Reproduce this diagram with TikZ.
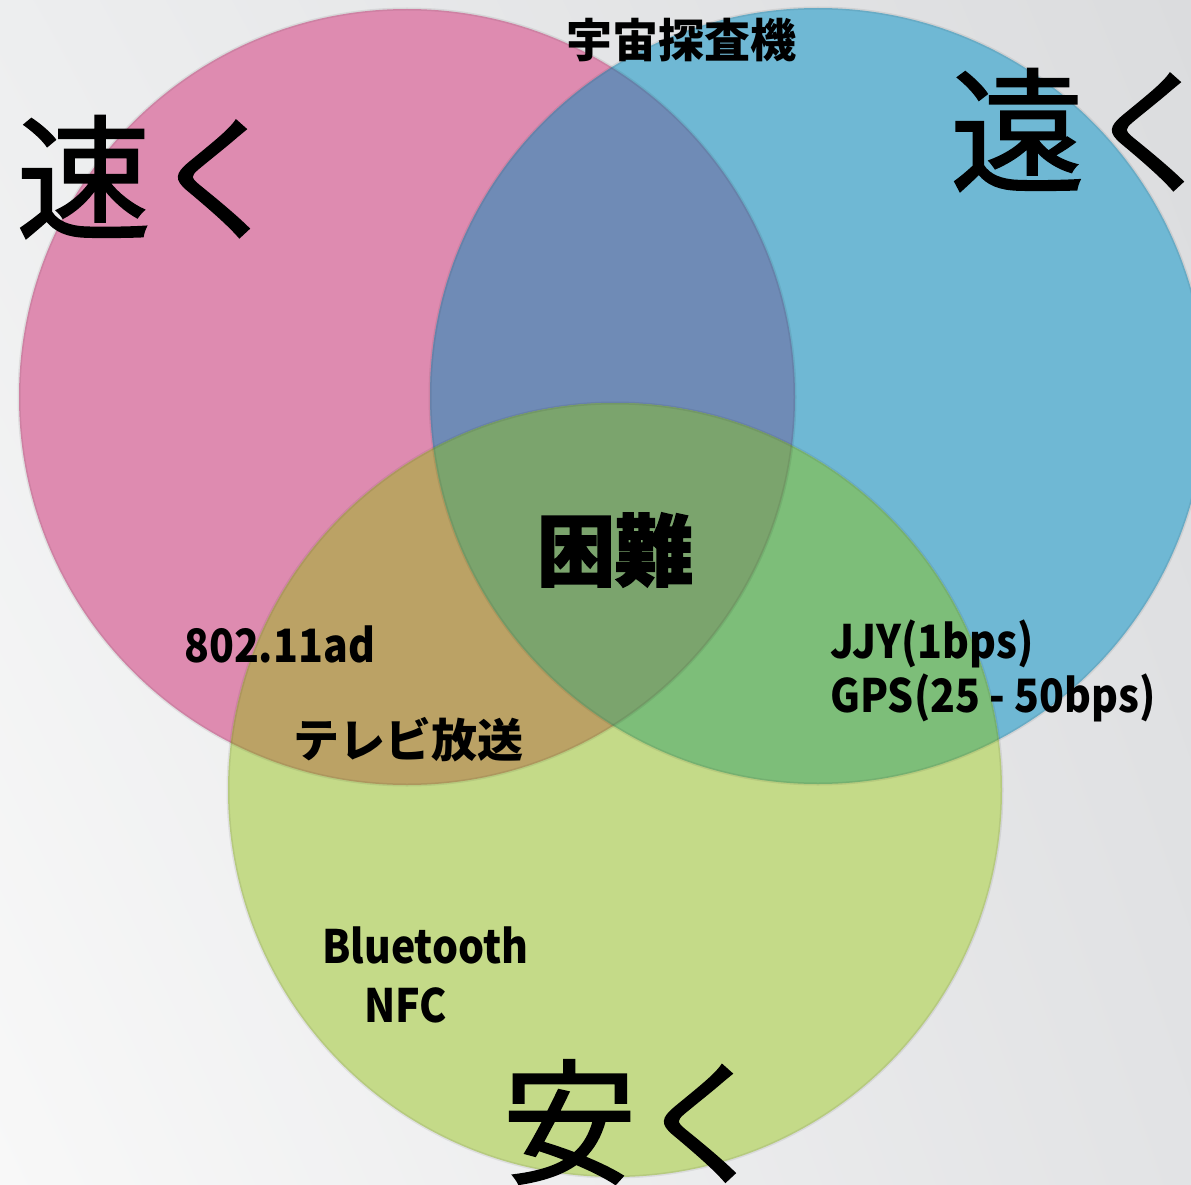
\documentclass[tikz,border=0pt]{standalone}
\usepackage{fontspec}
\setmainfont{Noto Sans CJK JP}
\newfontfamily\cjkheavy{Noto Sans CJK JP}[BoldFeatures={FakeBold=2}]
\newfontfamily\cjkmed{Noto Sans CJK JP}[FakeBold=1.2]
\newfontfamily\latinlbl{Noto Sans CJK JP}[FakeStretch=0.89]
\usetikzlibrary{shadings}
\definecolor{bgTL}{HTML}{EDEEEF}
\definecolor{bgTR}{HTML}{DBDCDE}
\definecolor{bgBL}{HTML}{F8F8F8}
\definecolor{bgBR}{HTML}{E2E3E5}
\definecolor{pinkonly}{HTML}{DE8BB0}
\definecolor{blueonly}{HTML}{6FB8D4}
\definecolor{greenonly}{HTML}{C4DA88}
\definecolor{pbcol}{HTML}{6F8BB6}
\definecolor{pgcol}{HTML}{BBA265}
\definecolor{bgcol}{HTML}{7DBE79}
\definecolor{pbgcol}{HTML}{7BA46D}
\begin{document}
\begin{tikzpicture}[x=1pt,y=-1pt,
  lbl/.style={inner sep=0pt, font=\bfseries\fontsize{46}{50}\selectfont},
  latin/.style={inner sep=0pt, anchor=base west, font=\latinlbl\bfseries\fontsize{46}{50}\selectfont},
  bigword/.style={inner sep=0pt, font=\cjkmed\fontsize{135}{140}\selectfont},
  ring/.style={radius=388pt},
  rim/.style={draw=black, draw opacity=0.07, line width=3pt}]
\useasboundingbox (0,0) rectangle (1191,1185);
\shade[upper left=bgTL, upper right=bgTR, lower left=bgBL, lower right=bgBR] (0,0) rectangle (1191,1185);
\coordinate (P) at (407,397);
\coordinate (B) at (818,396);
\coordinate (G) at (615,790);
\fill[pinkonly] (P) circle[ring];
\fill[blueonly] (B) circle[ring];
\fill[greenonly] (G) circle[radius=387pt];
\begin{scope}
  \clip (P) circle[ring];
  \fill[pbcol] (B) circle[ring];
  \fill[pgcol] (G) circle[radius=387pt];
\end{scope}
\begin{scope}
  \clip (B) circle[ring];
  \fill[bgcol] (G) circle[radius=387pt];
  \clip (P) circle[ring];
  \fill[pbgcol] (G) circle[radius=387pt];
\end{scope}
\path[rim] (P) circle[ring];
\path[rim] (B) circle[ring];
\path[rim] (G) circle[radius=387pt];
\node[bigword] (fast) at (151,177) {速く};
\node[bigword] (far) at (1085,130) {遠く};
\node[bigword] (cheap) at (637,1122) {安く};
\node[lbl] (probe) at (681,40) {宇宙探査機};
\node[inner sep=0pt, font=\cjkheavy\bfseries\fontsize{78}{80}\selectfont] (hard) at (615,550) {困難};
\node[latin] (wigig) at (184,662) {802.11ad};
\node[lbl] (tv) at (408,740) {テレビ放送};
\node[latin] (jjy) at (830,658) {JJY(1bps)};
\node[latin] (gps) at (830,712) {GPS(25 - 50bps)};
\node[latin] (bt) at (322,963) {Bluetooth};
\node[latin] (nfc) at (364,1022) {NFC};
\end{tikzpicture}
\end{document}
